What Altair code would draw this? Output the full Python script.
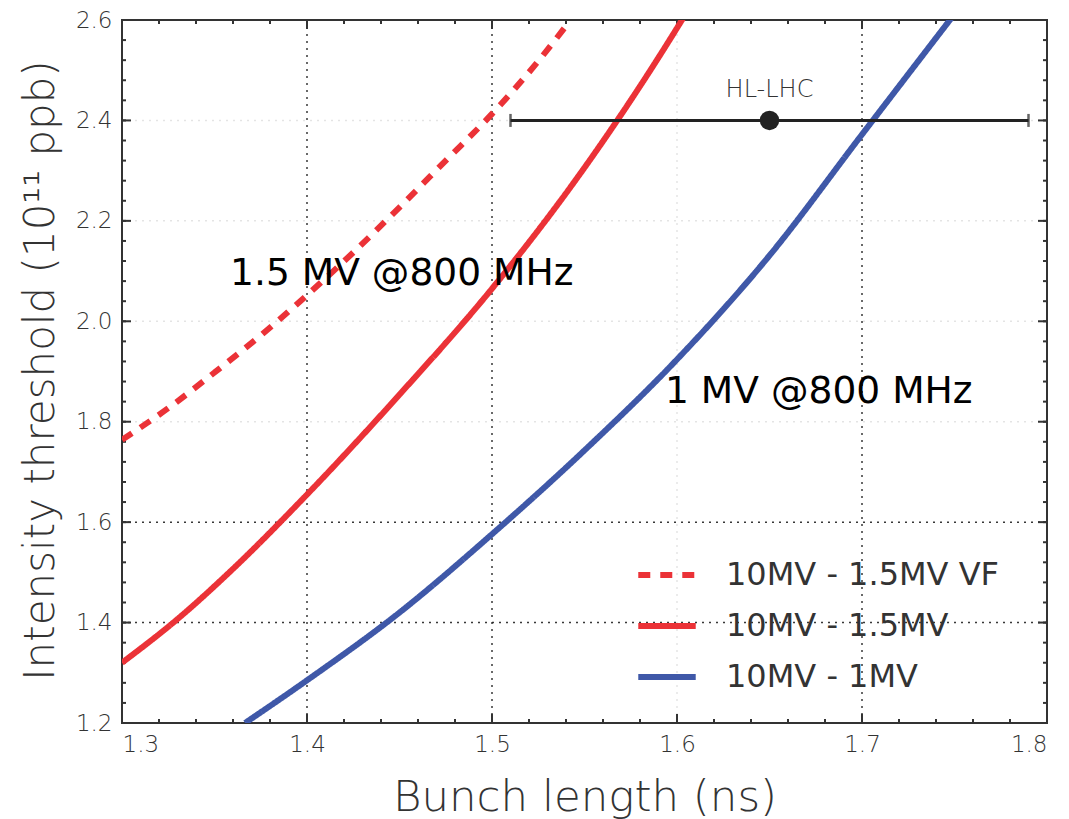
import altair as alt
import pandas as pd
import numpy as np

# ---- data ----
series_names = ["10MV - 1.5MV VF", "10MV - 1.5MV", "10MV - 1MV"]
series_colors = ["#eb3237", "#eb3237", "#3f58a8"]

vf_x = [1.300, 1.325, 1.350, 1.375, 1.400, 1.425, 1.450, 1.475, 1.500, 1.525, 1.540]
vf_y = [1.764, 1.827, 1.898, 1.972, 2.052, 2.137, 2.227, 2.320, 2.413, 2.518, 2.588]

r15_x = [1.300, 1.330, 1.360, 1.400, 1.450, 1.500, 1.550, 1.600, 1.605]
r15_y = [1.320, 1.407, 1.507, 1.655, 1.854, 2.065, 2.306, 2.584, 2.614]

b1_x = [1.3665, 1.400, 1.450, 1.500, 1.550, 1.600, 1.650, 1.700, 1.750]
b1_y = [1.200, 1.285, 1.420, 1.576, 1.743, 1.924, 2.131, 2.372, 2.612]

hl_x = [1.65]
hl_lo = [1.51]
hl_hi = [1.79]
hl_y = [2.40]
hl_label = ["HL-LHC"]
hl_label_y = [2.447]

ann_text = ["1.5 MV @800 MHz", "1 MV @800 MHz"]
ann_x = [1.3584, 1.5935]
ann_y = [2.0725, 1.8375]

x_ticks = [1.3, 1.4, 1.5, 1.6, 1.7, 1.8]
y_ticks = [1.2, 1.4, 1.6, 1.8, 2.0, 2.2, 2.4, 2.6]
grid_x_dark = [1.4, 1.5, 1.7]
grid_x_faint = [1.6]
grid_y_dark = [1.4, 1.6]
grid_y_faint = [1.8, 2.0, 2.2, 2.4]
x_minor = [round(v, 2) for v in np.arange(1.30, 1.8001, 0.02)]
y_minor = [round(v, 2) for v in np.arange(1.20, 2.6001, 0.04)]

W, H = 925, 703
FONT = "DejaVu Sans"

curves = pd.concat([
    pd.DataFrame({"series": series_names[0], "x": vf_x, "y": vf_y}),
    pd.DataFrame({"series": series_names[1], "x": r15_x, "y": r15_y}),
    pd.DataFrame({"series": series_names[2], "x": b1_x, "y": b1_y}),
], ignore_index=True)

xs = alt.Scale(domain=[1.3, 1.8], nice=False, zero=False)
ys = alt.Scale(domain=[1.2, 2.6], nice=False, zero=False)

x_axis = alt.Axis(values=x_ticks, format=".1f", grid=False, ticks=False, domain=False,
                  labelFont=FONT, labelFontSize=23, labelColor="#333", labelPadding=10,
                  labelFontWeight=300,
                  title="Bunch length (ns)", titleFont=FONT, titleFontSize=43.5,
                  titleFontWeight=300, titleColor="#333",
                  titleBaseline="alphabetic", titleY=87)
y_axis = alt.Axis(values=y_ticks, format=".1f", grid=False, ticks=False, domain=False,
                  labelFont=FONT, labelFontSize=23, labelColor="#333", labelPadding=10,
                  labelFontWeight=300,
                  title="Intensity threshold (10¹¹ ppb)", titleFont=FONT, titleFontSize=42,
                  titleFontWeight=300, titleColor="#333", titleAngle=270,
                  titleBaseline="alphabetic", titleAlign="center", titleX=-69, titleY=350)

def X(field):
    return alt.X(field, scale=xs, axis=x_axis)

def Y(field):
    return alt.Y(field, scale=ys, axis=y_axis)

legend = alt.Legend(orient="none", legendX=513, legendY=523, title=None,
                    symbolType="stroke", symbolSize=3300, symbolStrokeWidth=6,
                    labelFont=FONT, labelFontSize=32, labelColor="#333",
                    labelOffset=27, rowPadding=3, labelLimit=500, padding=0)

def vrules(vals, opacity):
    return alt.Chart(pd.DataFrame({"v": vals})).mark_rule(
        color="#222", strokeWidth=1.5, strokeDash=[2, 5], opacity=opacity
    ).encode(x=X("v:Q"))

def hrules(vals, opacity):
    return alt.Chart(pd.DataFrame({"v": vals})).mark_rule(
        color="#222", strokeWidth=1.5, strokeDash=[2, 5], opacity=opacity
    ).encode(y=Y("v:Q"))

grid = vrules(grid_x_dark, 0.9) + vrules(grid_x_faint, 0.12) + \
    hrules(grid_y_dark, 0.9) + hrules(grid_y_faint, 0.12)

def xtick(vals, length, top):
    d = pd.DataFrame({"v": vals})
    if top:
        yy, yy2 = alt.value(0), alt.value(length)
    else:
        yy, yy2 = alt.value(H), alt.value(H - length)
    return alt.Chart(d).mark_rule(color="#333", strokeWidth=2).encode(
        x=X("v:Q"), y=yy, y2=yy2)

def ytick(vals, length, right):
    d = pd.DataFrame({"v": vals})
    if right:
        xx, xx2 = alt.value(W), alt.value(W - length)
    else:
        xx, xx2 = alt.value(0), alt.value(length)
    return alt.Chart(d).mark_rule(color="#333", strokeWidth=2).encode(
        y=Y("v:Q"), x=xx, x2=xx2)

ticks = (xtick(x_ticks, 9, False) + xtick(x_minor, 4, False) +
         xtick(x_ticks, 9, True) + xtick(x_minor, 4, True) +
         ytick(y_ticks, 9, False) + ytick(y_minor, 4, False) +
         ytick(y_ticks, 9, True) + ytick(y_minor, 4, True))

lines = alt.Chart(curves).mark_line(strokeWidth=6, interpolate="monotone",
                                    strokeCap="butt", clip=True).encode(
    x=X("x:Q"),
    y=Y("y:Q"),
    color=alt.Color("series:N", scale=alt.Scale(domain=series_names, range=series_colors),
                    legend=legend),
    strokeDash=alt.StrokeDash("series:N",
                              scale=alt.Scale(domain=series_names,
                                              range=[[12, 10], [1, 0], [1, 0]]),
                              legend=legend),
    order=alt.Order("x:Q"),
)

hl = pd.DataFrame({"x": hl_x, "lo": hl_lo, "hi": hl_hi, "y": hl_y,
                   "label": hl_label, "ly": hl_label_y})
caps = pd.DataFrame({"x": hl_lo + hl_hi, "y": hl_y + hl_y})

err = alt.Chart(hl).mark_rule(color="#222", strokeWidth=3).encode(
    x=X("lo:Q"), x2="hi:Q", y=Y("y:Q"))
cap = alt.Chart(caps).mark_tick(color="#222", orient="vertical", size=13, thickness=2.5).encode(
    x=X("x:Q"), y=Y("y:Q"))
dot = alt.Chart(hl).mark_point(filled=True, color="#222", size=380, opacity=1).encode(
    x=X("x:Q"), y=Y("y:Q"))
hl_text = alt.Chart(hl).mark_text(font=FONT, fontSize=24, color="#333", fontWeight=300,
                                  align="center", baseline="alphabetic").encode(
    x=X("x:Q"), y=Y("ly:Q"), text="label:N")

ann = pd.DataFrame({"t": ann_text, "x": ann_x, "y": ann_y})
ann_layer = alt.Chart(ann).mark_text(font=FONT, fontSize=37.6, color="#000",
                                     align="left", baseline="alphabetic").encode(
    x=X("x:Q"), y=Y("y:Q"), text="t:N")

chart = alt.layer(grid, ticks, lines, err, cap, dot, hl_text, ann_layer).properties(
    width=W, height=H,
    autosize=alt.AutoSizeParams(type="none"),
    padding={"left": 122, "top": 20, "right": 22, "bottom": 96},
    background="white",
).configure_view(stroke="#333", strokeWidth=2)

chart.save("out.html", embed_options={"renderer": "svg", "actions": False})
